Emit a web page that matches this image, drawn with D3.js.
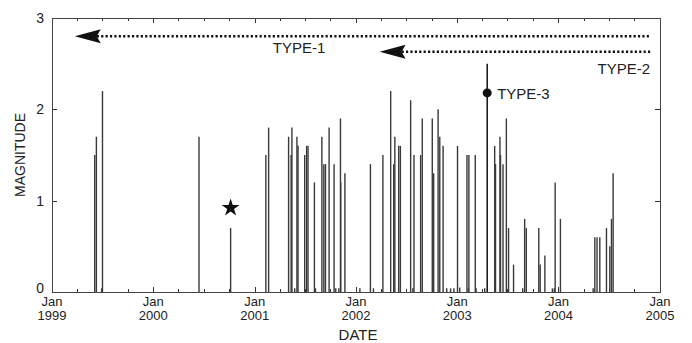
<!DOCTYPE html>
<html>
<head>
<meta charset="utf-8">
<script src="https://cdn.jsdelivr.net/npm/d3@7"></script>
<style>
  body { margin: 0; background: #fff; }
  text { font-family: "Liberation Sans", Arial, Helvetica, sans-serif; fill: #222; }
</style>
</head>
<body>
<svg id="chart" width="692" height="343"></svg>
<script>
// event dates and magnitudes
var eventDates = [
  "1999-06-04","1999-06-10","1999-07-02",
  "2000-06-14","2000-10-06",
  "2001-02-10","2001-02-20","2001-05-03","2001-05-12","2001-05-15","2001-06-02","2001-06-06",
  "2001-06-30","2001-07-07","2001-07-12","2001-08-04","2001-08-31","2001-09-07","2001-09-13",
  "2001-09-26","2001-10-14","2001-11-06","2001-11-07","2001-11-22",
  "2002-02-22","2002-04-08","2002-05-06","2002-05-17","2002-05-21","2002-06-04","2002-06-10",
  "2002-07-17","2002-07-29","2002-08-22","2002-08-28","2002-10-03","2002-10-08","2002-10-24",
  "2002-10-30","2002-11-11",
  "2003-01-02","2003-02-05","2003-02-12","2003-03-07","2003-05-16","2003-05-19","2003-06-04",
  "2003-06-06","2003-06-15","2003-06-27","2003-07-05","2003-07-23","2003-09-01","2003-09-07",
  "2003-10-22","2003-10-27","2003-11-13","2003-12-20",
  "2004-01-08","2004-05-11","2004-05-19","2004-05-29","2004-06-22","2004-07-04","2004-07-10",
  "2004-07-16"
];
var eventMags = [
  1.5, 1.7, 2.2,
  1.7, 0.7,
  1.5, 1.8, 1.7, 1.5, 1.8, 1.7, 1.6,
  1.5, 1.6, 1.6, 1.2, 1.7, 1.4, 1.4,
  1.8, 1.4, 1.9, 1.2, 1.3,
  1.4, 1.5, 2.2, 1.4, 1.7, 1.6, 1.6,
  2.1, 1.5, 1.5, 1.9, 1.9, 1.3, 2.0,
  1.7, 1.6,
  1.6, 1.5, 1.5, 1.5, 1.6, 1.4, 1.7,
  1.5, 1.4, 1.9, 0.7, 0.3, 0.8, 0.7,
  0.7, 0.3, 0.4, 1.2,
  0.8, 0.6, 0.6, 0.6, 0.7, 0.5, 0.8,
  1.3
];
// very small events near zero
var smallDates = [
  "1999-06-29","2001-05-25","2001-08-08","2001-10-20","2001-10-31","2002-01-15","2002-03-05",
  "2002-07-25","2002-11-24","2002-12-08","2002-12-20","2003-01-10","2003-02-10","2003-03-10",
  "2003-04-10","2003-08-25","2003-12-10","2003-12-17","2004-05-05"
];
var smallMags = [0.04,0.04,0.04,0.04,0.04,0.04,0.04,0.04,0.04,0.04,0.04,0.05,0.04,0.04,0.04,0.04,0.04,0.04,0.04];

// TYPE-3 event and the starred event
var type3Date = "2003-04-19", type3Top = 2.5, type3Dot = 2.18;
var starDate = "2000-10-06", starMag = 0.92;

// arrows: start date, end date, level
var arrowStarts = ["1999-03-24", "2002-03-27"];
var arrowEnd = "2004-11-28";
var arrowLevels = [2.8, 2.63];
var arrowLabels = ["TYPE-1", "TYPE-2"];

var yTicks = [0, 1, 2, 3];
var yearTicks = ["1999","2000","2001","2002","2003","2004","2005"];

var parse = d3.timeParse("%Y-%m-%d");
var svg = d3.select("#chart");
var M = {left: 52, right: 660, top: 18, bottom: 292};

var x = d3.scaleTime()
  .domain([new Date(1999, 0, 1), new Date(2005, 0, 1)])
  .range([M.left, M.right]);
var y = d3.scaleLinear().domain([0, 3]).range([M.bottom, M.top]);

var quarters = x.ticks(d3.timeMonth.every(3));

// frame ticks (inward)
var ticks = svg.append("g").attr("stroke", "#333").attr("stroke-width", 1);
quarters.forEach(function (d) {
  var len = d.getMonth() === 0 ? 5 : 3;
  var xx = Math.round(x(d)) + 0.5;
  ticks.append("line").attr("x1", xx).attr("x2", xx).attr("y1", M.top).attr("y2", M.top + len);
  ticks.append("line").attr("x1", xx).attr("x2", xx).attr("y1", M.bottom).attr("y2", M.bottom - len);
});
yTicks.slice(1, 3).forEach(function (v) {
  var yy = Math.round(y(v)) + 0.5;
  ticks.append("line").attr("x1", M.left).attr("x2", M.left + 5).attr("y1", yy).attr("y2", yy);
  ticks.append("line").attr("x1", M.right).attr("x2", M.right - 5).attr("y1", yy).attr("y2", yy);
});

// stems
var events = eventDates.map(function (d, i) { return {date: parse(d), mag: eventMags[i]}; });
var small = smallDates.map(function (d, i) { return {date: parse(d), mag: smallMags[i]}; });

svg.append("g").selectAll("line").data(events.concat(small)).enter().append("line")
  .attr("x1", function (d) { return x(d.date); })
  .attr("x2", function (d) { return x(d.date); })
  .attr("y1", y(0))
  .attr("y2", function (d) { return y(d.mag); })
  .attr("stroke", "#3a3a3a")
  .attr("stroke-width", 1.4);

// TYPE-3 stem
var t3 = parse(type3Date);
svg.append("line")
  .attr("x1", x(t3)).attr("x2", x(t3))
  .attr("y1", y(0)).attr("y2", y(type3Top))
  .attr("stroke", "#111").attr("stroke-width", 1.5);
svg.append("circle").attr("cx", x(t3)).attr("cy", y(type3Dot)).attr("r", 4.5).attr("fill", "#111");
svg.append("text").attr("x", x(t3) + 10).attr("y", y(type3Dot) + 6)
  .attr("font-size", 15).text("TYPE-3");

// star
svg.append("path")
  .attr("d", d3.symbol().type(d3.symbolStar).size(100)())
  .attr("transform", "translate(" + x(parse(starDate)) + "," + y(starMag) + ")")
  .attr("fill", "#111");

// arrows
arrowStarts.forEach(function (s, i) {
  var x0 = x(parse(s)), x1 = x(parse(arrowEnd)), yy = y(arrowLevels[i]);
  svg.append("line")
    .attr("x1", x0 + 22).attr("x2", x1)
    .attr("y1", yy).attr("y2", yy)
    .attr("stroke", "#111").attr("stroke-width", 2.5)
    .attr("stroke-dasharray", "2.2,2.2");
  svg.append("path")
    .attr("d", "M" + x0 + "," + yy + "L" + (x0 + 26) + "," + (yy - 7) +
      "L" + (x0 + 22) + "," + yy + "L" + (x0 + 26) + "," + (yy + 7) + "Z")
    .attr("fill", "#111");
});
svg.append("text").attr("x", 299).attr("y", y(arrowLevels[0]) + 17)
  .attr("text-anchor", "middle").attr("font-size", 15).text(arrowLabels[0]);
svg.append("text").attr("x", 650).attr("y", y(arrowLevels[1]) + 22)
  .attr("text-anchor", "end").attr("font-size", 15).text(arrowLabels[1]);

// frame
svg.append("rect")
  .attr("x", M.left + 0.5).attr("y", M.top + 0.5)
  .attr("width", M.right - M.left).attr("height", M.bottom - M.top)
  .attr("fill", "none").attr("stroke", "#444").attr("stroke-width", 1);

// y tick labels
svg.append("g").selectAll("text").data(yTicks).enter().append("text")
  .attr("x", 44).attr("y", function (d) { return d === 0 ? y(d) + 1 : y(d) + 5; })
  .attr("text-anchor", "end").attr("font-size", 14)
  .text(function (d) { return d; });

// x tick labels
var xl = svg.append("g").selectAll("g").data(yearTicks).enter().append("g")
  .attr("transform", function (d) { return "translate(" + x(new Date(+d, 0, 1)) + ",0)"; });
xl.append("text").attr("y", 306).attr("text-anchor", "middle").attr("font-size", 13).text("Jan");
xl.append("text").attr("y", 320).attr("text-anchor", "middle").attr("font-size", 13)
  .text(function (d) { return d; });

// axis titles
svg.append("text").attr("x", (M.left + M.right) / 2 + 2).attr("y", 340)
  .attr("text-anchor", "middle").attr("font-size", 15).text("DATE");
svg.append("text")
  .attr("transform", "translate(25," + ((M.top + M.bottom) / 2) + ") rotate(-90)")
  .attr("text-anchor", "middle").attr("font-size", 14).text("MAGNITUDE");
</script>
</body>
</html>
